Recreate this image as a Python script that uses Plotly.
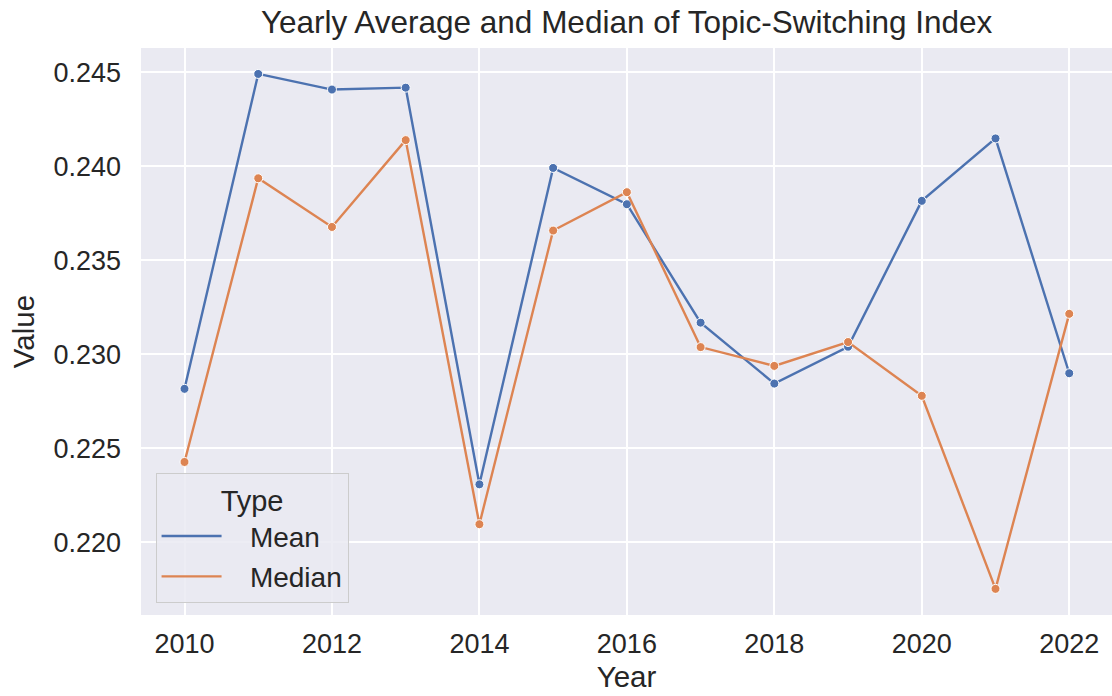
import plotly.graph_objects as go

years = [2010, 2011, 2012, 2013, 2014, 2015, 2016, 2017, 2018, 2019, 2020, 2021, 2022]
mean_vals = [0.22815, 0.24490, 0.24407, 0.24417, 0.22307, 0.23990, 0.23797,
             0.23167, 0.22843, 0.23039, 0.23815, 0.24147, 0.22898]
median_vals = [0.22426, 0.23935, 0.23676, 0.24138, 0.22095, 0.23657, 0.23861,
               0.23037, 0.22937, 0.23064, 0.22778, 0.21751, 0.23214]
x_ticks = [2010, 2012, 2014, 2016, 2018, 2020, 2022]
y_ticks = [0.220, 0.225, 0.230, 0.235, 0.240, 0.245]

FONT = "Liberation Sans, Arial, sans-serif"
TXT = "#262626"
BLUE = "#4C72B0"
ORANGE = "#DD8452"

fig = go.Figure()
for name, vals, col in [("Mean", mean_vals, BLUE), ("Median", median_vals, ORANGE)]:
    fig.add_trace(go.Scatter(
        x=years, y=vals, name=name, mode="lines+markers", showlegend=False,
        legendgroup=name,
        line=dict(color=col, width=2.4),
        marker=dict(size=9, color=col, line=dict(color="white", width=1)),
    ))
    # legend entry: line only (as in the reference)
    fig.add_trace(go.Scatter(
        x=[None], y=[None], name="   " + name, mode="lines", legendgroup=name,
        line=dict(color=col, width=2.4), showlegend=True,
    ))

fig.update_layout(
    width=1112, height=696,
    margin=dict(l=141, r=0, t=48, b=81, autoexpand=False),
    paper_bgcolor="white",
    plot_bgcolor="#EAEAF2",
    font=dict(family=FONT, color=TXT, size=27),
    title=dict(
        text="Yearly Average and Median of Topic-Switching Index",
        x=0.5635, xanchor="center", y=0.968, yanchor="middle",
        font=dict(size=31.5, color=TXT, family=FONT),
    ),
    showlegend=True,
    legend=dict(
        title=dict(text="Type", side="top center", font=dict(size=29, color=TXT)),
        x=0.015, xanchor="left", y=0.022, yanchor="bottom",
        bgcolor="rgba(234,234,242,0.85)",
        bordercolor="#CCCCCC", borderwidth=1,
        font=dict(size=28, color=TXT),
        itemwidth=60,
        tracegroupgap=1,
    ),
)

fig.update_xaxes(
    range=[2009.41, 2022.58], automargin=False,
    tickmode="array", tickvals=x_ticks, ticktext=[str(t) for t in x_ticks],
    showgrid=True, gridcolor="white", gridwidth=1.5,
    zeroline=False, showline=False, ticks="",
    tickfont=dict(size=27, color=TXT),
    ticklabelstandoff=10,
    title=dict(text="Year", font=dict(size=29.5, color=TXT), standoff=8),
)
fig.update_yaxes(
    range=[0.21612, 0.24628], automargin=False,
    tickmode="array", tickvals=y_ticks, ticktext=[f"{t:.3f}" for t in y_ticks],
    showgrid=True, gridcolor="white", gridwidth=1.5,
    zeroline=False, showline=False, ticks="",
    tickfont=dict(size=27, color=TXT),
    ticklabelstandoff=19,
    title=dict(text="Value", font=dict(size=29.5, color=TXT), standoff=10),
)

fig.write_html("out.html", config={"displayModeBar": False},
               post_script="document.body.style.margin='0';")
